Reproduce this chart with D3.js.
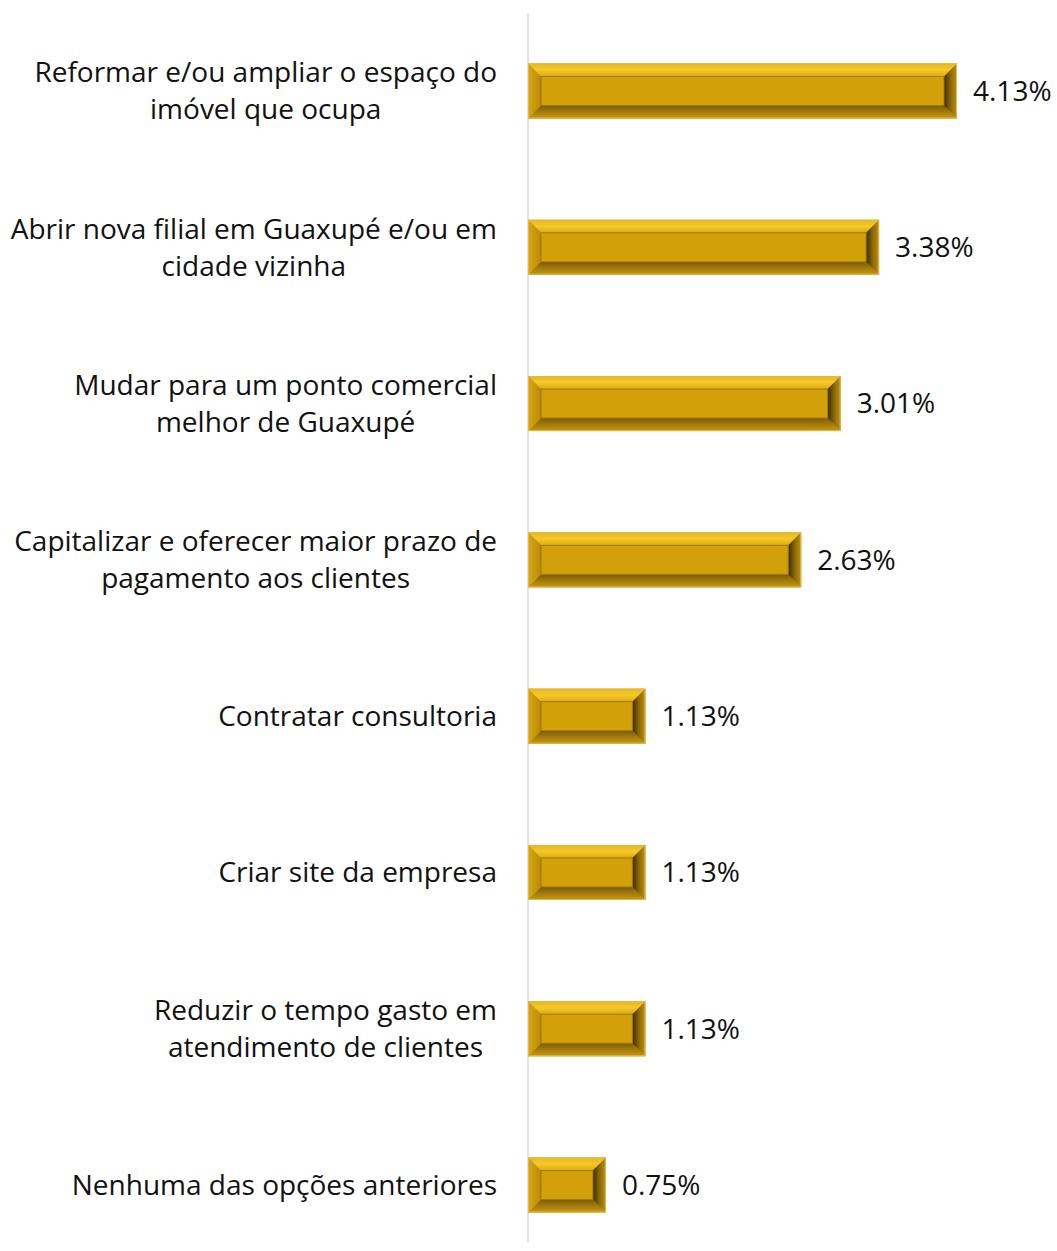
<!DOCTYPE html>
<html><head><meta charset="utf-8">
<script src="https://cdn.jsdelivr.net/npm/d3@7"></script>
<style>body{margin:0;background:#fff}svg{display:block}</style>
</head><body>
<script>
const categories = [
  ["Reformar e/ou ampliar o espaço do","imóvel que ocupa"],
  ["Abrir nova filial em Guaxupé e/ou em","cidade vizinha"],
  ["Mudar para um ponto comercial","melhor de Guaxupé"],
  ["Capitalizar e oferecer maior prazo de","pagamento aos clientes"],
  ["Contratar consultoria"],
  ["Criar site da empresa"],
  ["Reduzir o tempo gasto em","atendimento de clientes"],
  ["Nenhuma das opções anteriores"]
];
const values = [4.13, 3.38, 3.01, 2.63, 1.13, 1.13, 1.13, 0.75];
const valueLabels = ["4.13%","3.38%","3.01%","2.63%","1.13%","1.13%","1.13%","0.75%"];

const W = 1057, H = 1251;
const FONT = "'Open Sans', sans-serif";
const FS = 28;
const svg = d3.select("body").append("svg").attr("width", W).attr("height", H);
const defs = svg.append("defs");
function grad(id, x2, y2, stops){
  const g = defs.append("linearGradient").attr("id", id).attr("x1",0).attr("y1",0).attr("x2",x2).attr("y2",y2);
  stops.forEach(s => g.append("stop").attr("offset", s[0]).attr("stop-color", s[1]));
}
grad("gTop", 0, 1, [[0,"#e8b820"],[0.5,"#f6c82a"],[1,"#dcaa10"]]);
grad("gBot", 0, 1, [[0,"#7a5a08"],[0.5,"#a47c0c"],[1,"#c8980e"]]);
grad("gLeft", 1, 0, [[0,"#d8a810"],[1,"#b88a0a"]]);
grad("gRight", 1, 0, [[0,"#3a2a02"],[0.5,"#8a6808"],[1,"#c09010"]]);

const idx = d3.range(categories.length);
const y = d3.scalePoint().domain(idx).range([91, 1185]);
const x = d3.scaleLinear().domain([0, 4.13]).range([528, 957]);
const bh = 55;

svg.append("line").attr("x1", x(0)).attr("x2", x(0)).attr("y1", 13).attr("y2", 1242)
  .attr("stroke", "#d9d9d9").attr("stroke-width", 1.5);

const g = svg.selectAll("g.bar").data(idx).join("g").attr("class","bar");
g.each(function(i){
  const el = d3.select(this);
  const x0 = x(0), x1 = x(values[i]), y0 = y(i) - bh/2, y1 = y(i) + bh/2;
  const b = 13;
  el.append("rect").attr("x", x0).attr("y", y0).attr("width", x1-x0).attr("height", bh).attr("fill", "#d4a00a");
  el.append("polygon").attr("points", [[x0,y0],[x1,y0],[x1-b,y0+b],[x0+b,y0+b]].join(" ")).attr("fill","url(#gTop)");
  el.append("polygon").attr("points", [[x0,y1],[x1,y1],[x1-b,y1-b],[x0+b,y1-b]].join(" ")).attr("fill","url(#gBot)");
  el.append("polygon").attr("points", [[x0,y0],[x0+b,y0+b],[x0+b,y1-b],[x0,y1]].join(" ")).attr("fill","url(#gLeft)");
  el.append("polygon").attr("points", [[x1,y0],[x1-b,y0+b],[x1-b,y1-b],[x1,y1]].join(" ")).attr("fill","url(#gRight)");
  el.append("rect").attr("x", x0+b).attr("y", y0+b).attr("width", Math.max(0,x1-x0-2*b)).attr("height", bh-2*b)
    .attr("fill", "#d4a00a").attr("stroke","#a07808").attr("stroke-width",1);
  el.append("rect").attr("x", x0+0.5).attr("y", y0+0.5).attr("width", x1-x0-1).attr("height", bh-1)
    .attr("fill","none").attr("stroke","#e2b848").attr("stroke-width",1);
  el.append("text").attr("x", x1 + 16).attr("y", y(i)).attr("dy","0.35em")
    .attr("font-family",FONT).attr("font-size", FS).attr("fill","#111")
    .text(valueLabels[i]);
  const lines = categories[i];
  const lh = 37;
  const t = el.append("text").attr("text-anchor","middle")
    .attr("font-family",FONT).attr("font-size", FS).attr("fill","#111");
  const spans = lines.map((ln, k) =>
    t.append("tspan").attr("y", y(i) + (k - (lines.length-1)/2) * lh).attr("dy","0.35em").text(ln));
  const maxW = d3.max(spans, s => s.node().getComputedTextLength());
  spans.forEach(s => s.attr("x", 497 - maxW/2));
});
</script>
</body></html>
